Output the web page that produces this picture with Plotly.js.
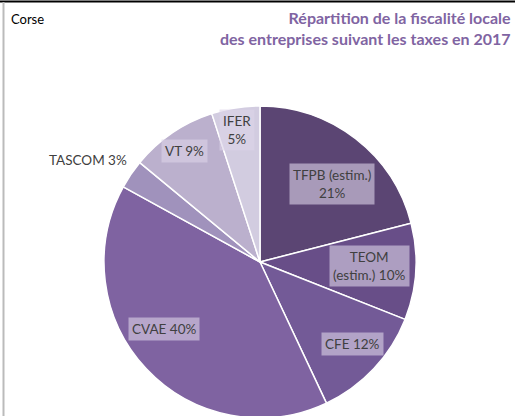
<!DOCTYPE html>
<html><head><meta charset="utf-8">
<script src="https://cdn.plot.ly/plotly-3.0.1.min.js"></script>
<style>html,body{margin:0;padding:0;overflow:hidden;background:#fff;}#chart{width:515px;height:430px;}</style>
</head><body><div id="chart"></div>
<script>
var categories = ["TFPB (estim.)", "TEOM (estim.)", "CFE", "CVAE", "TASCOM", "VT", "IFER"];
var values = [21, 10, 12, 40, 3, 9, 5];
var labelTexts = ["TFPB (estim.)<br>21%", "TEOM<br>(estim.) 10%", "CFE 12%", "CVAE 40%", "TASCOM 3%", "VT 9%", "IFER<br>5%"];
var colors = ["#5b4573", "#684e88", "#735a97", "#7f63a1", "#a092bc", "#bbb0cd", "#d2cce0"];

var W = 515, H = 430;
var cx = 260, cy = 262, R = 156;
// label placement: radial fraction, angular offset (deg), boxed or not
var radial = [0.68, 0.70, 0.79, 0.75, 1.28, 0.86, 0.86];
var angleShift = [5, -1.6, -1.8, 8, -3.5, 0, -1];
var boxed = [true, true, true, true, false, true, true];

var total = values.reduce(function(a,b){return a+b;},0);
var annotations = [];
var cum = 0;
for (var i = 0; i < values.length; i++) {
  var mid = (cum + values[i]/2) / total * 2 * Math.PI + angleShift[i] * Math.PI / 180;
  cum += values[i];
  var r = R * radial[i];
  var px = cx + r * Math.sin(mid);
  var py = cy - r * Math.cos(mid);
  annotations.push({
    xref: "paper", yref: "paper", x: px / W, y: (H - py) / H,
    xanchor: "center", yanchor: "middle", showarrow: false,
    text: labelTexts[i], align: "center",
    font: {family: "Lato, 'Open Sans', sans-serif", size: 13.5, color: "#404040"},
    bgcolor: boxed[i] ? "rgba(220,212,232,0.6)" : "rgba(0,0,0,0)",
    borderpad: 3
  });
}
annotations.push({
  xref: "paper", yref: "paper", x: 513 / W, y: (H - 6) / H,
  xanchor: "right", yanchor: "top", showarrow: false, align: "right",
  text: "<b>Répartition de la fiscalité locale<br>des entreprises suivant les taxes en 2017</b>",
  font: {family: "Lato, 'Open Sans', sans-serif", size: 16, color: "#8064a2"}
});
annotations.push({
  xref: "paper", yref: "paper", x: 9 / W, y: (H - 9) / H,
  xanchor: "left", yanchor: "top", showarrow: false,
  text: "Corse",
  font: {family: "Lato, 'Open Sans', sans-serif", size: 13, color: "#000"}
});

var trace = {
  type: "pie", labels: categories, values: values, sort: false,
  direction: "clockwise", rotation: 0,
  marker: {colors: colors, line: {color: "#ffffff", width: 1.5}},
  textinfo: "none", hoverinfo: "label+percent", showlegend: false,
  domain: {x: [(cx - R) / W, (cx + R) / W], y: [(H - cy - R) / H, (H - cy + R) / H]}
};

var layout = {
  width: W, height: H, margin: {l: 0, r: 0, t: 0, b: 0},
  paper_bgcolor: "#fff", showlegend: false,
  annotations: annotations,
  shapes: [
    {type: "line", xref: "paper", yref: "paper", x0: 0, x1: 1, y0: (H - 1.5) / H, y1: (H - 1.5) / H, line: {color: "#000", width: 2}},
    {type: "line", xref: "paper", yref: "paper", x0: 3.5 / W, x1: 3.5 / W, y0: 0, y1: (H - 2) / H, line: {color: "#bbbbbb", width: 2}}
  ]
};
Plotly.newPlot("chart", [trace], layout, {displayModeBar: false, staticPlot: true});
</script></body></html>
